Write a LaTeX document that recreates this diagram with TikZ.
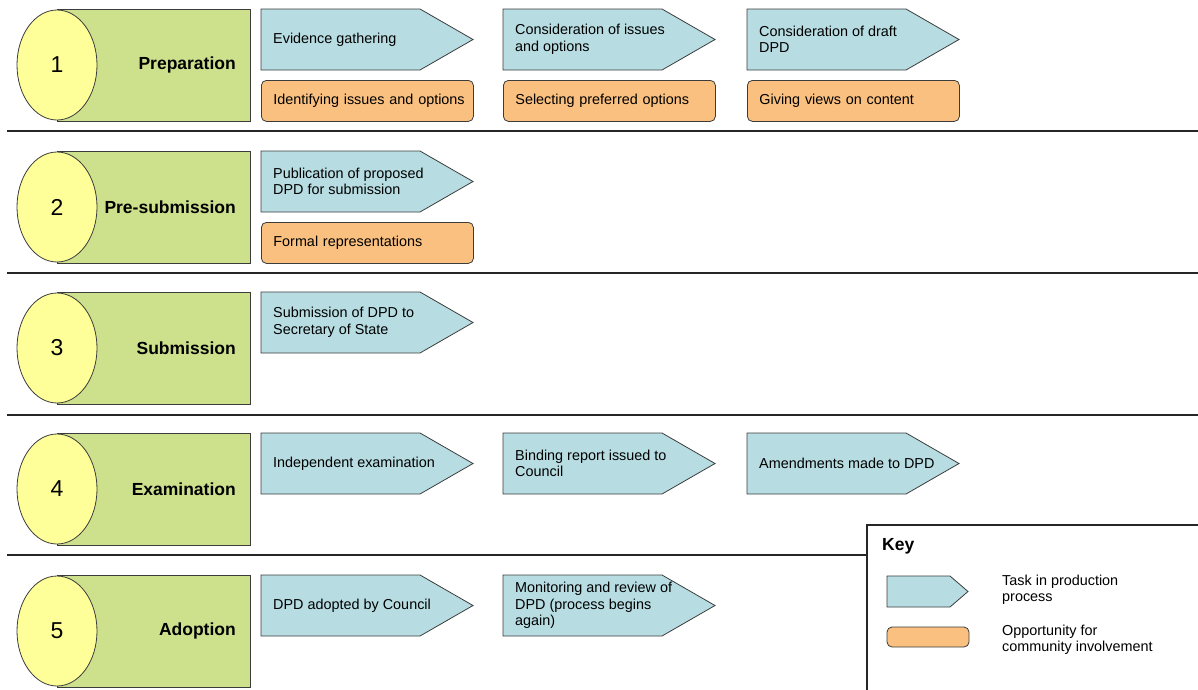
\documentclass[tikz,border=0pt]{standalone}
\usepackage{fontspec}
\setmainfont{Liberation Sans}
\usetikzlibrary{shapes.geometric}

\definecolor{stagegreen}{RGB}{205,225,140}
\definecolor{stageyellow}{RGB}{255,255,153}
\definecolor{taskblue}{RGB}{183,221,226}
\definecolor{chanceorange}{RGB}{250,192,128}
\definecolor{edgegrey}{RGB}{60,60,60}

\begin{document}
\begin{tikzpicture}[x=1pt,y=-1pt,
  stagebox/.style={draw=edgegrey,line width=0.8pt,fill=stagegreen,anchor=north west,
    minimum width=193pt,minimum height=112pt,inner sep=0pt},
  stagenum/.style={ellipse,draw=edgegrey,line width=0.8pt,fill=stageyellow,
    minimum width=80pt,minimum height=110pt,inner sep=0pt,font=\fontsize{23}{25}\selectfont},
  stagename/.style={anchor=east,inner sep=0pt,font=\fontsize{17.5}{20}\selectfont\bfseries},
  task/.style={draw=edgegrey,line width=0.8pt,fill=taskblue},
  tasktext/.style={anchor=west,align=left,inner sep=0pt,font=\fontsize{14.4}{16.5}\selectfont},
  chance/.style={draw=edgegrey,line width=0.8pt,fill=chanceorange,rounded corners=5pt,
    anchor=north west,minimum width=212pt,minimum height=41pt,text width=188pt,
    inner xsep=12pt,inner ysep=0pt,align=left,font=\fontsize{14.4}{16.5}\selectfont},
  divider/.style={line width=2.5pt,draw=black!85}]
  \useasboundingbox (0,0) rectangle (1198,689);

  % stage 1
  \node[stagebox] (b1) at (57,9) {};
  \node[stagenum] (n1) at (57,65) {1};
  \node[stagename] (s1) at (236,65) {Preparation};
  \draw[task] (261,9) -- (420,9) -- (473,39.5) -- (420,70) -- (261,70) -- cycle;
  \node[tasktext] (t11) at (273,39.5) {Evidence gathering};
  \draw[task] (503,9) -- (662,9) -- (715,39.5) -- (662,70) -- (503,70) -- cycle;
  \node[tasktext] (t12) at (515,39.5) {Consideration of issues\\and options};
  \draw[task] (747,9) -- (906,9) -- (959,39.5) -- (906,70) -- (747,70) -- cycle;
  \node[tasktext] (t13) at (759,39.5) {Consideration of draft\\DPD};
  \node[chance] (c11) at (261,80) {\mbox{Identifying issues and options}};
  \node[chance] (c12) at (503,80) {Selecting preferred options};
  \node[chance] (c13) at (747,80) {Giving views on content};
  \draw[divider] (7,131) -- (1198,131);

  % stage 2
  \node[stagebox] (b2) at (57,151) {};
  \node[stagenum] (n2) at (57,207) {2};
  \node[stagename] (s2) at (236,207) {Pre-submission};
  \draw[task] (261,151) -- (420,151) -- (473,181.5) -- (420,212) -- (261,212) -- cycle;
  \node[tasktext] (t21) at (273,181.5) {Publication of proposed\\DPD for submission};
  \node[chance] (c21) at (261,222) {Formal representations};
  \draw[divider] (7,273) -- (1198,273);

  % stage 3
  \node[stagebox] (b3) at (57,292) {};
  \node[stagenum] (n3) at (57,348) {3};
  \node[stagename] (s3) at (236,348) {Submission};
  \draw[task] (261,292) -- (420,292) -- (473,322.5) -- (420,353) -- (261,353) -- cycle;
  \node[tasktext] (t31) at (273,322.5) {Submission of DPD to\\Secretary of State};
  \draw[divider] (7,415) -- (1198,415);

  % stage 4
  \node[stagebox] (b4) at (57,433) {};
  \node[stagenum] (n4) at (57,489) {4};
  \node[stagename] (s4) at (236,489) {Examination};
  \draw[task] (261,433) -- (420,433) -- (473,463.5) -- (420,494) -- (261,494) -- cycle;
  \node[tasktext] (t41) at (273,463.5) {Independent examination};
  \draw[task] (503,433) -- (662,433) -- (715,463.5) -- (662,494) -- (503,494) -- cycle;
  \node[tasktext] (t42) at (515,463.5) {Binding report issued to\\Council};
  \draw[task] (747,433) -- (906,433) -- (959,463.5) -- (906,494) -- (747,494) -- cycle;
  \node[tasktext] (t43) at (759,463.5) {Amendments made to DPD};

  % key
  \coordinate (k) at (867,525);
  \draw[divider] (7,555) -- (867,555);
  \draw[divider] (1200,525) -- (k) -- (867,692);
  \node[anchor=west,inner sep=0pt,font=\fontsize{17.5}{20}\selectfont\bfseries] (key) at (882,546) {Key};
  \draw[task] (887,576) -- (950,576) -- (968,591.5) -- (950,607) -- (887,607) -- cycle;
  \node[tasktext] (kt) at (1002,590) {Task in production\\process};
  \draw[chance] (887,627) rectangle (969,647);
  \node[tasktext] (kc) at (1002,640) {Opportunity for\\community involvement};

  % stage 5
  \node[stagebox] (b5) at (57,575) {};
  \node[stagenum] (n5) at (57,631) {5};
  \node[stagename] (s5) at (236,631) {Adoption};
  \draw[task] (261,575) -- (420,575) -- (473,605.5) -- (420,636) -- (261,636) -- cycle;
  \node[tasktext] (t51) at (273,605.5) {DPD adopted by Council};
  \draw[task] (503,575) -- (662,575) -- (715,605.5) -- (662,636) -- (503,636) -- cycle;
  \node[tasktext] (t52) at (515,605.5) {Monitoring and review of\\DPD (process begins\\again)};
\end{tikzpicture}
\end{document}
